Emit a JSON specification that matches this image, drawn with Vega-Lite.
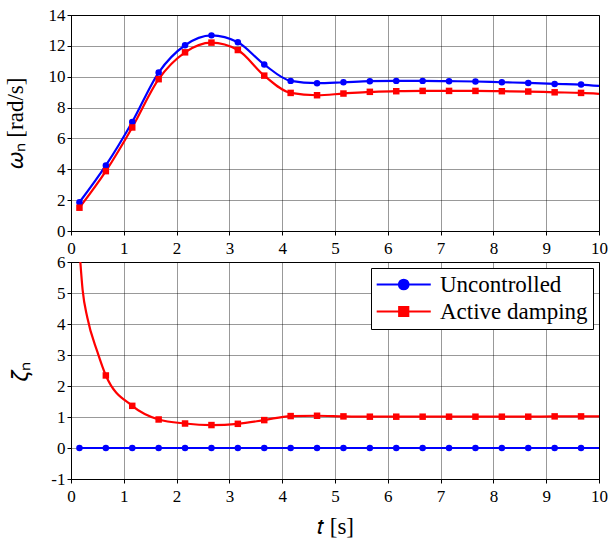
{
  "$schema": "https://vega.github.io/schema/vega-lite/v6.json",
  "padding": {"left": 3, "top": 5, "right": 0, "bottom": 3},
  "bounds": "flush",
  "spacing": 31,
  "resolve": {"scale": {"color": "independent"}},
  "config": {
    "font": "Liberation Serif",
    "view": {"stroke": "black", "strokeWidth": 1},
    "legend": {
      "labelFont": "Liberation Serif", "labelFontSize": 23, "labelColor": "black",
      "strokeColor": "black", "fillColor": "white", "padding": 5,
      "symbolSize": 117, "symbolStrokeWidth": 2, "rowPadding": 3, "labelOffset": 41
    }
  },
  "datasets": {
    "omega": [
      {"series": "Uncontrolled", "t": 0.16, "v": 1.86, "kind": "sample"},
      {"series": "Uncontrolled", "t": 0.66, "v": 4.25, "kind": "sample"},
      {"series": "Uncontrolled", "t": 1.16, "v": 7.07, "kind": "sample"},
      {"series": "Uncontrolled", "t": 1.66, "v": 10.27, "kind": "sample"},
      {"series": "Uncontrolled", "t": 2.16, "v": 12.04, "kind": "sample"},
      {"series": "Uncontrolled", "t": 2.66, "v": 12.68, "kind": "sample"},
      {"series": "Uncontrolled", "t": 3.16, "v": 12.23, "kind": "sample"},
      {"series": "Uncontrolled", "t": 3.66, "v": 10.79, "kind": "sample"},
      {"series": "Uncontrolled", "t": 4.16, "v": 9.73, "kind": "sample"},
      {"series": "Uncontrolled", "t": 4.66, "v": 9.58, "kind": "sample"},
      {"series": "Uncontrolled", "t": 5.16, "v": 9.64, "kind": "sample"},
      {"series": "Uncontrolled", "t": 5.66, "v": 9.71, "kind": "sample"},
      {"series": "Uncontrolled", "t": 6.16, "v": 9.73, "kind": "sample"},
      {"series": "Uncontrolled", "t": 6.66, "v": 9.73, "kind": "sample"},
      {"series": "Uncontrolled", "t": 7.16, "v": 9.71, "kind": "sample"},
      {"series": "Uncontrolled", "t": 7.66, "v": 9.69, "kind": "sample"},
      {"series": "Uncontrolled", "t": 8.16, "v": 9.64, "kind": "sample"},
      {"series": "Uncontrolled", "t": 8.66, "v": 9.6, "kind": "sample"},
      {"series": "Uncontrolled", "t": 9.16, "v": 9.53, "kind": "sample"},
      {"series": "Uncontrolled", "t": 9.66, "v": 9.49, "kind": "sample"},
      {"series": "Uncontrolled", "t": 10, "v": 9.4, "kind": "curve"},
      {"series": "Active damping", "t": 0.16, "v": 1.51, "kind": "sample"},
      {"series": "Active damping", "t": 0.66, "v": 3.88, "kind": "sample"},
      {"series": "Active damping", "t": 1.16, "v": 6.71, "kind": "sample"},
      {"series": "Active damping", "t": 1.66, "v": 9.84, "kind": "sample"},
      {"series": "Active damping", "t": 2.16, "v": 11.58, "kind": "sample"},
      {"series": "Active damping", "t": 2.66, "v": 12.21, "kind": "sample"},
      {"series": "Active damping", "t": 3.16, "v": 11.73, "kind": "sample"},
      {"series": "Active damping", "t": 3.66, "v": 10.07, "kind": "sample"},
      {"series": "Active damping", "t": 4.16, "v": 8.95, "kind": "sample"},
      {"series": "Active damping", "t": 4.66, "v": 8.8, "kind": "sample"},
      {"series": "Active damping", "t": 5.16, "v": 8.91, "kind": "sample"},
      {"series": "Active damping", "t": 5.66, "v": 9.02, "kind": "sample"},
      {"series": "Active damping", "t": 6.16, "v": 9.06, "kind": "sample"},
      {"series": "Active damping", "t": 6.66, "v": 9.08, "kind": "sample"},
      {"series": "Active damping", "t": 7.16, "v": 9.08, "kind": "sample"},
      {"series": "Active damping", "t": 7.66, "v": 9.08, "kind": "sample"},
      {"series": "Active damping", "t": 8.16, "v": 9.06, "kind": "sample"},
      {"series": "Active damping", "t": 8.66, "v": 9.04, "kind": "sample"},
      {"series": "Active damping", "t": 9.16, "v": 8.99, "kind": "sample"},
      {"series": "Active damping", "t": 9.66, "v": 8.95, "kind": "sample"},
      {"series": "Active damping", "t": 10, "v": 8.89, "kind": "curve"}
    ],
    "zeta": [
      {"series": "Uncontrolled", "t": 0.16, "v": 0, "kind": "sample"},
      {"series": "Uncontrolled", "t": 0.66, "v": 0, "kind": "sample"},
      {"series": "Uncontrolled", "t": 1.16, "v": 0, "kind": "sample"},
      {"series": "Uncontrolled", "t": 1.66, "v": 0, "kind": "sample"},
      {"series": "Uncontrolled", "t": 2.16, "v": 0, "kind": "sample"},
      {"series": "Uncontrolled", "t": 2.66, "v": 0, "kind": "sample"},
      {"series": "Uncontrolled", "t": 3.16, "v": 0, "kind": "sample"},
      {"series": "Uncontrolled", "t": 3.66, "v": 0, "kind": "sample"},
      {"series": "Uncontrolled", "t": 4.16, "v": 0, "kind": "sample"},
      {"series": "Uncontrolled", "t": 4.66, "v": 0, "kind": "sample"},
      {"series": "Uncontrolled", "t": 5.16, "v": 0, "kind": "sample"},
      {"series": "Uncontrolled", "t": 5.66, "v": 0, "kind": "sample"},
      {"series": "Uncontrolled", "t": 6.16, "v": 0, "kind": "sample"},
      {"series": "Uncontrolled", "t": 6.66, "v": 0, "kind": "sample"},
      {"series": "Uncontrolled", "t": 7.16, "v": 0, "kind": "sample"},
      {"series": "Uncontrolled", "t": 7.66, "v": 0, "kind": "sample"},
      {"series": "Uncontrolled", "t": 8.16, "v": 0, "kind": "sample"},
      {"series": "Uncontrolled", "t": 8.66, "v": 0, "kind": "sample"},
      {"series": "Uncontrolled", "t": 9.16, "v": 0, "kind": "sample"},
      {"series": "Uncontrolled", "t": 9.66, "v": 0, "kind": "sample"},
      {"series": "Uncontrolled", "t": 10, "v": 0, "kind": "curve"},
      {"series": "Active damping", "t": 0.16, "v": 6.4, "kind": "sample"},
      {"series": "Active damping", "t": 0.22, "v": 5.1, "kind": "curve"},
      {"series": "Active damping", "t": 0.31, "v": 4.2, "kind": "curve"},
      {"series": "Active damping", "t": 0.5, "v": 3.1, "kind": "curve"},
      {"series": "Active damping", "t": 0.66, "v": 2.34, "kind": "sample"},
      {"series": "Active damping", "t": 1.16, "v": 1.36, "kind": "sample"},
      {"series": "Active damping", "t": 1.66, "v": 0.92, "kind": "sample"},
      {"series": "Active damping", "t": 2.16, "v": 0.79, "kind": "sample"},
      {"series": "Active damping", "t": 2.66, "v": 0.74, "kind": "sample"},
      {"series": "Active damping", "t": 3.16, "v": 0.78, "kind": "sample"},
      {"series": "Active damping", "t": 3.66, "v": 0.9, "kind": "sample"},
      {"series": "Active damping", "t": 4.16, "v": 1.03, "kind": "sample"},
      {"series": "Active damping", "t": 4.66, "v": 1.04, "kind": "sample"},
      {"series": "Active damping", "t": 5.16, "v": 1.02, "kind": "sample"},
      {"series": "Active damping", "t": 5.66, "v": 1.01, "kind": "sample"},
      {"series": "Active damping", "t": 6.16, "v": 1.01, "kind": "sample"},
      {"series": "Active damping", "t": 6.66, "v": 1.01, "kind": "sample"},
      {"series": "Active damping", "t": 7.16, "v": 1.01, "kind": "sample"},
      {"series": "Active damping", "t": 7.66, "v": 1.01, "kind": "sample"},
      {"series": "Active damping", "t": 8.16, "v": 1.01, "kind": "sample"},
      {"series": "Active damping", "t": 8.66, "v": 1.01, "kind": "sample"},
      {"series": "Active damping", "t": 9.16, "v": 1.02, "kind": "sample"},
      {"series": "Active damping", "t": 9.66, "v": 1.02, "kind": "sample"},
      {"series": "Active damping", "t": 10, "v": 1.02, "kind": "curve"}
    ]
  },
  "vconcat": [
    {
      "width": 528,
      "height": 216,
      "data": {"name": "omega"},
      "encoding": {
        "x": {"field": "t", "type": "quantitative", "scale": {"domain": [0, 10], "nice": false},
              "axis": {"values": [0, 1, 2, 3, 4, 5, 6, 7, 8, 9, 10], "title": null, "labelPadding": 5, "labelFlush": false,
                       "labelFont": "Liberation Serif", "labelFontSize": 17, "labelColor": "black",
                       "domainColor": "black", "tickColor": "black", "tickSize": 4,
                       "gridColor": "black", "gridDash": [1, 1], "gridOpacity": 0.8}},
        "y": {"field": "v", "type": "quantitative", "scale": {"domain": [0, 14], "nice": false},
              "axis": {"values": [0, 2, 4, 6, 8, 10, 12, 14], "title": "𝜔ₙ  [rad/s]", "titlePadding": 21,
                       "titleFont": "Liberation Serif", "titleFontSize": 23, "titleFontWeight": "normal", "titleColor": "black",
                       "labelFont": "Liberation Serif", "labelFontSize": 17, "labelColor": "black",
                       "domainColor": "black", "tickColor": "black", "tickSize": 4,
                       "gridColor": "black", "gridDash": [1, 1], "gridOpacity": 0.8}},
        "color": {"field": "series", "type": "nominal",
                  "scale": {"domain": ["Uncontrolled", "Active damping"], "range": ["#0000ff", "#ff0000"]}, "legend": null}
      },
      "layer": [
        {"mark": {"type": "line", "interpolate": "monotone", "strokeWidth": 2.2, "clip": true}},
        {"transform": [{"filter": "datum.kind == 'sample' && datum.series == 'Uncontrolled'"}],
         "mark": {"type": "point", "shape": "circle", "filled": true, "opacity": 1, "size": 42, "clip": true}},
        {"transform": [{"filter": "datum.kind == 'sample' && datum.series == 'Active damping'"}],
         "mark": {"type": "point", "shape": "square", "filled": true, "opacity": 1, "size": 42, "clip": true}}
      ]
    },
    {
      "width": 528,
      "height": 217,
      "data": {"name": "zeta"},
      "encoding": {
        "x": {"field": "t", "type": "quantitative", "scale": {"domain": [0, 10], "nice": false},
              "axis": {"values": [0, 1, 2, 3, 4, 5, 6, 7, 8, 9, 10], "title": "𝑡 [s]", "labelPadding": 5, "titlePadding": 11, "labelFlush": false,
                       "titleFont": "Liberation Serif", "titleFontSize": 23, "titleFontWeight": "normal", "titleColor": "black",
                       "labelFont": "Liberation Serif", "labelFontSize": 17, "labelColor": "black",
                       "domainColor": "black", "tickColor": "black", "tickSize": 4,
                       "gridColor": "black", "gridDash": [1, 1], "gridOpacity": 0.8}},
        "y": {"field": "v", "type": "quantitative", "scale": {"domain": [-1, 6], "nice": false},
              "axis": {"values": [-1, 0, 1, 2, 3, 4, 5, 6], "title": "𝜁ₙ", "titlePadding": 18,
                       "labelExpr": "replace(datum.label, '−', '-')",
                       "titleFont": "Liberation Serif", "titleFontSize": 23, "titleFontWeight": "normal", "titleColor": "black",
                       "labelFont": "Liberation Serif", "labelFontSize": 17, "labelColor": "black",
                       "domainColor": "black", "tickColor": "black", "tickSize": 4,
                       "gridColor": "black", "gridDash": [1, 1], "gridOpacity": 0.8}},
        "color": {"field": "series", "type": "nominal",
                  "scale": {"domain": ["Uncontrolled", "Active damping"], "range": ["#0000ff", "#ff0000"]},
                  "legend": {"title": null, "orient": "top-right", "offset": 6,
                    "encode": {"symbols": {"update": {
                      "shape": {"signal": "datum.value === 'Uncontrolled' ? 'M-2,0L8,0M2.1,0A0.9,0.9 0 1,1 3.9,0A0.9,0.9 0 1,1 2.1,0Z' : 'M-2,0L8,0M2.15,-0.85L3.85,-0.85L3.85,0.85L2.15,0.85Z'"},
                      "fill": {"signal": "datum.value === 'Uncontrolled' ? '#0000ff' : '#ff0000'"},
                      "stroke": {"signal": "datum.value === 'Uncontrolled' ? '#0000ff' : '#ff0000'"},
                      "strokeWidth": {"value": 2},
                      "opacity": {"value": 1}
                    }}}}}
      },
      "layer": [
        {"mark": {"type": "line", "interpolate": "monotone", "strokeWidth": 2.2, "clip": true}},
        {"transform": [{"filter": "datum.kind == 'sample' && datum.series == 'Uncontrolled'"}],
         "mark": {"type": "point", "shape": "circle", "filled": true, "opacity": 1, "size": 42, "clip": true}},
        {"transform": [{"filter": "datum.kind == 'sample' && datum.series == 'Active damping'"}],
         "mark": {"type": "point", "shape": "square", "filled": true, "opacity": 1, "size": 42, "clip": true}}
      ]
    }
  ]
}
